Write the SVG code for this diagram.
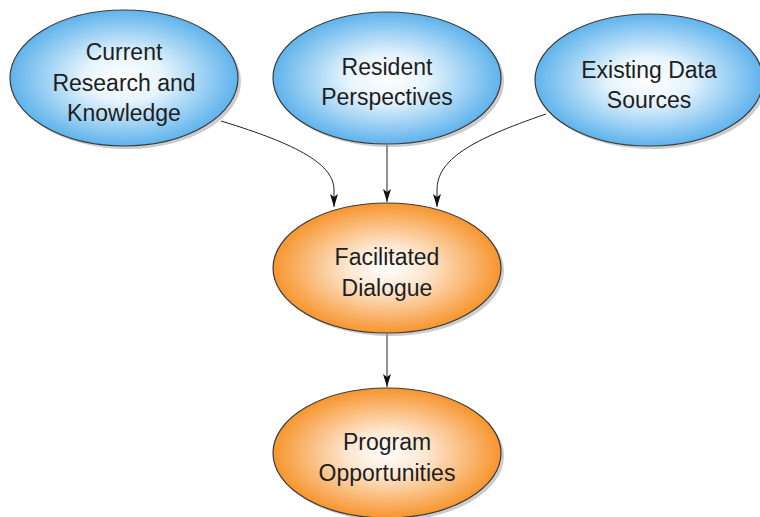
<svg xmlns="http://www.w3.org/2000/svg" width="760" height="517" viewBox="0 0 760 517">
<style>
.node{stroke:#3a3a3a;stroke-width:1.2}
.shadow{fill:#9a9a9a;opacity:0.5}
.lbl{font-family:"Liberation Sans",Arial,sans-serif;font-size:23px;fill:#1e1e1e;text-anchor:middle}
.conn{fill:none;stroke:#222;stroke-width:1}
</style>
<defs>
<radialGradient id="gb" cx="50%" cy="50%" r="50%">
<stop offset="0" stop-color="#ffffff"/>
<stop offset="0.35" stop-color="#e6f4fd"/>
<stop offset="1" stop-color="#5fb3ec"/>
</radialGradient>
<radialGradient id="go" cx="50%" cy="50%" r="50%">
<stop offset="0" stop-color="#ffffff"/>
<stop offset="0.35" stop-color="#fde6cf"/>
<stop offset="1" stop-color="#f7952e"/>
</radialGradient>
<marker id="ah" markerWidth="14" markerHeight="8" refX="13" refY="4" orient="auto" markerUnits="userSpaceOnUse" viewBox="0 0 14 8">
<path d="M0,0 L13,4 L0,8 L3,4 Z" fill="#111"/>
</marker>
</defs>
<rect width="760" height="517" fill="#ffffff"/>
<g id="connectors">
<path class="conn" d="M221,121 C300,145 334,165 334,190 L334,207" marker-end="url(#ah)"/>
<path class="conn" d="M387,145 L387,202" marker-end="url(#ah)"/>
<path class="conn" d="M546,114 C470,140 437,160 437,190 L437,207" marker-end="url(#ah)"/>
<path class="conn" d="M387,334 L387,387" marker-end="url(#ah)"/>
</g>
<g id="current">
<ellipse class="shadow" cx="127" cy="81" rx="114" ry="68"/>
<ellipse class="node" cx="124" cy="78" rx="114" ry="68" fill="url(#gb)"/>
<text class="lbl" x="124" y="60">Current</text>
<text class="lbl" x="124" y="91">Research and</text>
<text class="lbl" x="124" y="121">Knowledge</text>
</g>
<g id="resident">
<ellipse class="shadow" cx="390" cy="81" rx="114" ry="66"/>
<ellipse class="node" cx="387" cy="78" rx="114" ry="66" fill="url(#gb)"/>
<text class="lbl" x="387" y="75">Resident</text>
<text class="lbl" x="387" y="105">Perspectives</text>
</g>
<g id="existing">
<ellipse class="shadow" cx="652" cy="83" rx="114" ry="66"/>
<ellipse class="node" cx="649" cy="80" rx="114" ry="66" fill="url(#gb)"/>
<text class="lbl" x="649" y="78">Existing Data</text>
<text class="lbl" x="649" y="108">Sources</text>
</g>
<g id="facilitated">
<ellipse class="shadow" cx="390" cy="271" rx="114" ry="65"/>
<ellipse class="node" cx="387" cy="268" rx="114" ry="65" fill="url(#go)"/>
<text class="lbl" x="387" y="265">Facilitated</text>
<text class="lbl" x="387" y="296">Dialogue</text>
</g>
<g id="program">
<ellipse class="shadow" cx="390" cy="456" rx="114" ry="65"/>
<ellipse class="node" cx="387" cy="453" rx="114" ry="65" fill="url(#go)"/>
<text class="lbl" x="387" y="450">Program</text>
<text class="lbl" x="387" y="481">Opportunities</text>
</g>
</svg>
